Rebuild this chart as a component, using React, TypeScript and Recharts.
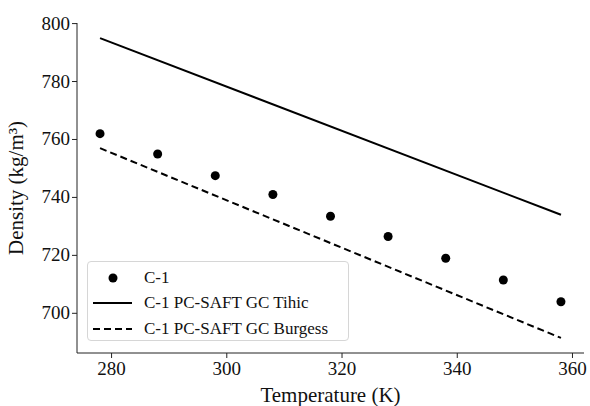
import { ComposedChart, Line, Scatter, XAxis, YAxis } from "recharts";

const temperatures = [278, 288, 298, 308, 318, 328, 338, 348, 358];
const measured = [762, 755, 747.5, 741, 733.5, 726.5, 719, 711.5, 704];

const lineTemps = [278, 358];
const tihic = [795, 734];
const burgess = [757, 691.5];

const xTicks = [280, 300, 320, 340, 360];
const yTicks = [700, 720, 740, 760, 780, 800];

const pointData = temperatures.map((t, i) => ({ x: t, y: measured[i] }));
const tihicData = lineTemps.map((t, i) => ({ x: t, y: tihic[i] }));
const burgessData = lineTemps.map((t, i) => ({ x: t, y: burgess[i] }));

const font = "Liberation Serif, DejaVu Serif, serif";
const axisColor = "#222";

const XTick = (p: any) => (
  <text
    x={p.x}
    y={p.y}
    dy={15}
    textAnchor="middle"
    fill="#111"
    fontSize={19}
    fontFamily={font}
  >
    {p.payload.value}
  </text>
);

const YTick = (p: any) => (
  <text
    x={p.x}
    y={p.y}
    dy={6}
    textAnchor="end"
    fill="#111"
    fontSize={19}
    fontFamily={font}
  >
    {p.payload.value}
  </text>
);

function LegendBox() {
  const rows = [
    { name: "C-1", kind: "dot" },
    { name: "C-1 PC-SAFT GC Tihic", kind: "solid" },
    { name: "C-1 PC-SAFT GC Burgess", kind: "dashed" },
  ];
  return (
    <div
      style={{
        position: "absolute",
        left: 87,
        top: 261,
        width: 262,
        height: 80,
        border: "1px solid #d6d6d6",
        borderRadius: 4,
        background: "rgba(255,255,255,0.85)",
        fontFamily: font,
        fontSize: 17,
        color: "#111",
        boxSizing: "border-box",
        paddingTop: 3,
      }}
    >
      {rows.map((r) => (
        <div key={r.name} style={{ display: "flex", alignItems: "center", height: 25.5 }}>
          <svg width={56} height={20} style={{ flex: "none" }}>
            {r.kind === "dot" && <circle cx={25} cy={10} r={4.5} fill="#000" />}
            {r.kind === "solid" && (
              <line x1={5} x2={44} y1={10} y2={10} stroke="#000" strokeWidth={2} />
            )}
            {r.kind === "dashed" && (
              <line
                x1={5}
                x2={44}
                y1={10}
                y2={10}
                stroke="#000"
                strokeWidth={2}
                strokeDasharray="7 4"
              />
            )}
          </svg>
          <span style={{ fontFamily: font }}>{r.name}</span>
        </div>
      ))}
    </div>
  );
}

export default function App() {
  return (
    <div
      style={{
        position: "absolute",
        left: 0,
        top: 0,
        width: 590,
        height: 406,
        background: "#fff",
        fontFamily: font,
      }}
    >
      <ComposedChart
        width={590}
        height={406}
        margin={{ top: 23, right: 6, bottom: 0, left: 0 }}
        style={{ fontFamily: font }}
      >
        <XAxis
          type="number"
          dataKey="x"
          domain={[274, 362]}
          ticks={xTicks}
          allowDataOverflow
          stroke={axisColor}
          tickSize={5}
          height={53}
          tick={XTick}
          label={{
            value: "Temperature (K)",
            position: "insideBottom",
            offset: 4,
            fill: "#111",
            fontSize: 21,
            fontFamily: font,
          }}
        />
        <YAxis
          type="number"
          dataKey="y"
          domain={[686.3, 800.2]}
          ticks={yTicks}
          allowDataOverflow
          stroke={axisColor}
          tickSize={5}
          width={77}
          tick={YTick}
          label={{
            value: "Density (kg/m³)",
            angle: -90,
            position: "insideLeft",
            offset: 16,
            style: { textAnchor: "middle" },
            fill: "#111",
            fontSize: 21,
            fontFamily: font,
          }}
        />
        <Line
          data={tihicData}
          dataKey="y"
          type="linear"
          stroke="#000"
          strokeWidth={2}
          dot={false}
          isAnimationActive={false}
          name="C-1 PC-SAFT GC Tihic"
        />
        <Line
          data={burgessData}
          dataKey="y"
          type="linear"
          stroke="#000"
          strokeWidth={2}
          strokeDasharray="7 4"
          dot={false}
          isAnimationActive={false}
          name="C-1 PC-SAFT GC Burgess"
        />
        <Scatter
          data={pointData}
          dataKey="y"
          fill="#000"
          shape={(p: any) => <circle cx={p.cx} cy={p.cy} r={4.5} fill="#000" />}
          isAnimationActive={false}
          name="C-1"
        />
      </ComposedChart>
      <LegendBox />
    </div>
  );
}
